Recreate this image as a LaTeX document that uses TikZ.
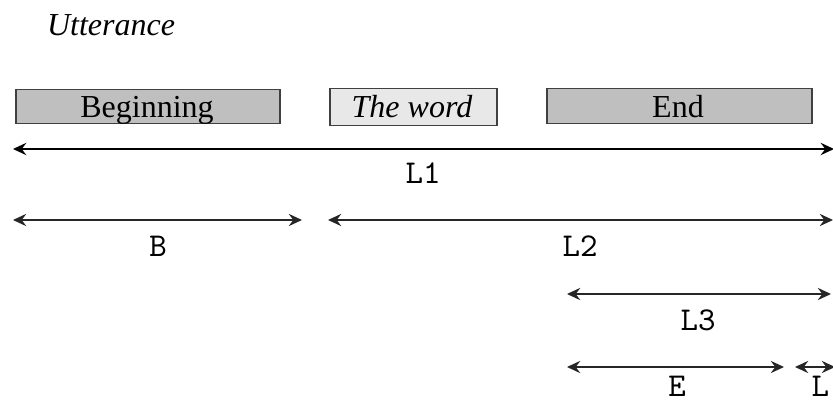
\documentclass[tikz,border=0pt]{standalone}
\usepackage{fontspec}
\setmainfont{Liberation Serif}
\usetikzlibrary{arrows.meta}
\begin{document}
\begin{tikzpicture}[x=0.3pt,y=-0.3pt,
  font=\fontsize{9.6pt}{11pt}\selectfont,
  part/.style={draw=black!75,line width=0.45pt,fill=black!25,inner sep=0pt,anchor=north west},
  dimline/.style={line width=0.45pt,black!85,{Stealth[length=4pt,width=3.7pt,inset=1.4pt]}-{Stealth[length=4pt,width=3.7pt,inset=1.4pt]}},
  lab/.style={font=\fontsize{10pt}{11pt}\ttfamily,anchor=base,inner sep=0pt},
  intext/.style={anchor=base,inner sep=0pt}]
\useasboundingbox (0,0) rectangle (833,402);
\node[font=\fontsize{9.6pt}{11pt}\itshape] (utt) at (111,25) {Utterance};
\node[part,minimum width=264*0.3pt,minimum height=34*0.3pt] (beg) at (15,89) {};
\node[intext] (begt) at (147,118) {Beginning};
\node[part,fill=black!9,minimum width=167*0.3pt,minimum height=37*0.3pt] (word) at (329,88) {};
\node[intext,font=\fontsize{9.6pt}{11pt}\itshape] (wordt) at (412,118) {The word};
\node[part,minimum width=265*0.3pt,minimum height=35*0.3pt] (end) at (546,88) {};
\node[intext] (endt) at (678,118) {End};
% coordinates
\coordinate (l1a) at (13,149);
\coordinate (l1b) at (834,149);
\coordinate (ba) at (13,220);
\coordinate (bb) at (302,220);
\coordinate (l2a) at (328,220);
\coordinate (l2b) at (833,220);
\coordinate (l3a) at (567,294);
\coordinate (l3b) at (831,294);
\coordinate (ea) at (567,367);
\coordinate (eb) at (784,367);
\coordinate (l4a) at (795,367);
\coordinate (l4b) at (835,367);
\draw[dimline,line width=0.65pt,black] (l1a) -- (l1b);
\draw[dimline] (ba) -- (bb);
\draw[dimline] (l2a) -- (l2b);
\draw[dimline] (l3a) -- (l3b);
\draw[dimline] (ea) -- (eb);
\draw[dimline] (l4a) -- (l4b);
\node[lab] (L1) at (423,184) {L1};
\node[lab] (B) at (158,257) {B};
\node[lab] (L2) at (580,257) {L2};
\node[lab] (L3) at (698,331) {L3};
\node[lab] (E) at (677,396) {E};
\node[lab,anchor=base west] (L4) at (811,396) {L};
\end{tikzpicture}
\end{document}
